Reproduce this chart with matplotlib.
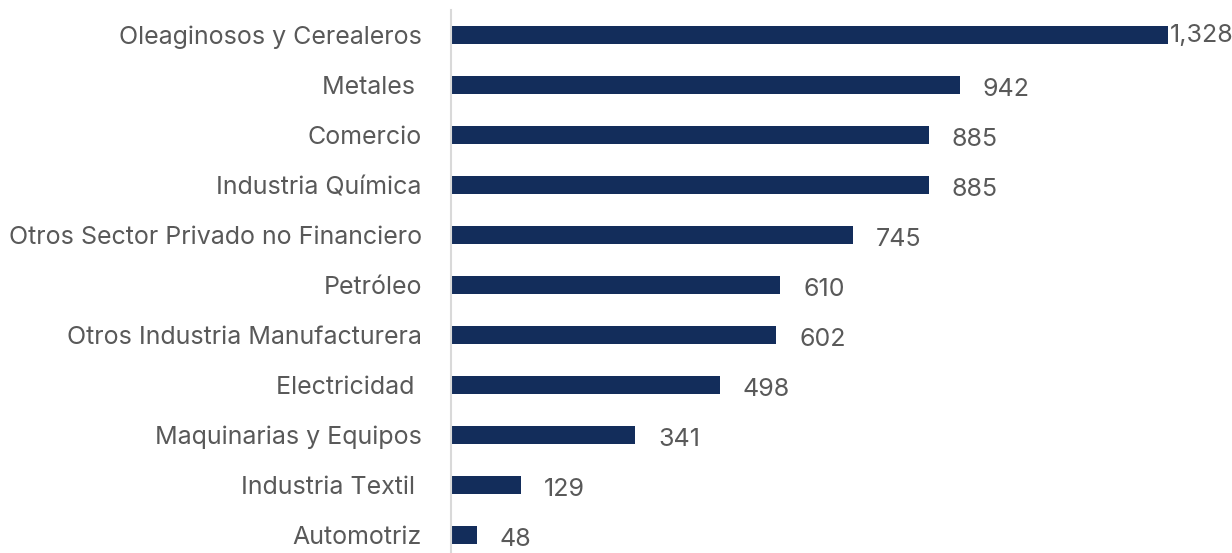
import matplotlib
matplotlib.use("Agg")
import matplotlib.pyplot as plt

categories = ["Oleaginosos y Cerealeros", "Metales ", "Comercio", "Industria Química",
              "Otros Sector Privado no Financiero", "Petróleo", "Otros Industria Manufacturera",
              "Electricidad ", "Maquinarias y Equipos", "Industria Textil ", "Automotriz"]
values = [1328, 942, 885, 885, 745, 610, 602, 498, 341, 129, 48]
value_labels = ["1,328", "942", "885", "885", "745", "610", "602", "498", "341", "129", "48"]

W, H = 1232, 553
fig = plt.figure(figsize=(W/100, H/100), dpi=100)
ax = fig.add_axes([451/W, (H-560)/H, (1168-451)/W, 550/H])
FAM = ['Inter', 'DejaVu Sans']
TXT = "#595959"

ypos = list(range(len(categories)))
ax.barh(ypos, values, height=0.36, color="#132d5b")
ax.set_ylim(len(categories)-0.5, -0.5)
ax.set_xlim(0, 1328)

for i, (v, lab) in enumerate(zip(values, value_labels)):
    off = 2 if v == max(values) else 23
    dy = -0.5 if v == max(values) else -3
    ax.annotate(lab, (v, i), xytext=(off*0.72, dy), textcoords="offset points",
                va="center", ha="left", fontsize=18, color=TXT,
                family=FAM, annotation_clip=False)

ax.set_yticks(ypos)
ax.set_yticklabels(categories, fontsize=18, color=TXT, family=FAM)
ax.tick_params(axis='y', length=0, pad=21)
ax.set_xticks([])
for s in ["top", "right", "bottom"]:
    ax.spines[s].set_visible(False)
ax.spines["left"].set_color("#d9d9d9")
ax.spines["left"].set_linewidth(1.5)

fig.savefig("out.png", dpi=100)
